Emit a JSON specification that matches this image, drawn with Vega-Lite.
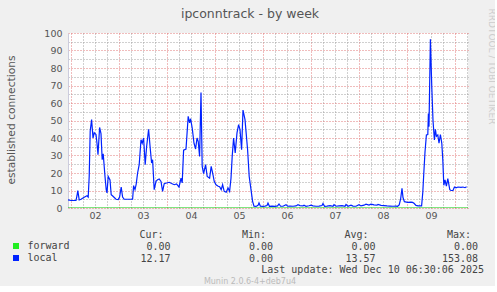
{
  "$schema": "https://vega.github.io/schema/vega-lite/v6.json",
  "background": "#f0f0f0",
  "padding": {"left": 5, "top": 7, "right": 0, "bottom": 0},
  "spacing": 9,
  "config": {"view": {"stroke": null}, "font": "DejaVu Sans"},
  "title": {"text": "Munin 2.0.6-4+deb7u4", "orient": "bottom", "anchor": "middle", "frame": "bounds", "font": "DejaVu Sans", "fontSize": 8, "fontWeight": "normal", "color": "#bbbbbb", "offset": 3},
  "resolve": {"scale": {"color": "independent"}, "legend": {"color": "independent"}},
  "vconcat": [
    {
      "width": 400,
      "height": 175,
      "view": {"fill": "#ffffff", "stroke": null},
      "data": {"values": [
        {"series": "forward", "t": 22.5, "v": 0}, {"series": "forward", "t": 222.5, "v": 0},
        {"series": "local", "t": 22.5, "v": 4.6}, {"series": "local", "t": 24, "v": 4.3}, {"series": "local", "t": 26.5, "v": 4.4}, {"series": "local", "t": 27, "v": 7},
        {"series": "local", "t": 27.4, "v": 10}, {"series": "local", "t": 28.1, "v": 4.6}, {"series": "local", "t": 29, "v": 5}, {"series": "local", "t": 30.6, "v": 6.2},
        {"series": "local", "t": 32, "v": 7}, {"series": "local", "t": 32.6, "v": 6.3}, {"series": "local", "t": 33.1, "v": 18}, {"series": "local", "t": 33.6, "v": 44},
        {"series": "local", "t": 34.3, "v": 50.5}, {"series": "local", "t": 35, "v": 40}, {"series": "local", "t": 35.6, "v": 43}, {"series": "local", "t": 36.5, "v": 42},
        {"series": "local", "t": 37, "v": 37}, {"series": "local", "t": 37.5, "v": 30.5}, {"series": "local", "t": 38.3, "v": 46}, {"series": "local", "t": 39, "v": 42.5},
        {"series": "local", "t": 39.6, "v": 27.6}, {"series": "local", "t": 40.1, "v": 31}, {"series": "local", "t": 41, "v": 18}, {"series": "local", "t": 41.6, "v": 10.5},
        {"series": "local", "t": 42, "v": 8.6}, {"series": "local", "t": 42.6, "v": 18}, {"series": "local", "t": 43.5, "v": 16}, {"series": "local", "t": 44.1, "v": 7.6},
        {"series": "local", "t": 45, "v": 6.7}, {"series": "local", "t": 46.5, "v": 5}, {"series": "local", "t": 47.6, "v": 4.8}, {"series": "local", "t": 48.3, "v": 6.3},
        {"series": "local", "t": 49.1, "v": 12}, {"series": "local", "t": 49.8, "v": 6.3}, {"series": "local", "t": 50.6, "v": 5}, {"series": "local", "t": 54.8, "v": 5},
        {"series": "local", "t": 55.3, "v": 12.8}, {"series": "local", "t": 56, "v": 10.5}, {"series": "local", "t": 56.6, "v": 13.7}, {"series": "local", "t": 57.3, "v": 20},
        {"series": "local", "t": 58.1, "v": 24.8}, {"series": "local", "t": 59, "v": 39}, {"series": "local", "t": 59.6, "v": 37}, {"series": "local", "t": 60.3, "v": 40},
        {"series": "local", "t": 61.1, "v": 24.8}, {"series": "local", "t": 61.8, "v": 35}, {"series": "local", "t": 62.8, "v": 45}, {"series": "local", "t": 63.6, "v": 34.3},
        {"series": "local", "t": 64.3, "v": 25.7}, {"series": "local", "t": 64.8, "v": 27.6}, {"series": "local", "t": 65.6, "v": 10.5}, {"series": "local", "t": 66.5, "v": 15.2},
        {"series": "local", "t": 67.3, "v": 16.2}, {"series": "local", "t": 68.1, "v": 16.6}, {"series": "local", "t": 69, "v": 15.2}, {"series": "local", "t": 69.8, "v": 9.5},
        {"series": "local", "t": 70.6, "v": 13.9}, {"series": "local", "t": 71.8, "v": 14.3}, {"series": "local", "t": 73.1, "v": 14.7}, {"series": "local", "t": 74.3, "v": 14},
        {"series": "local", "t": 75.6, "v": 13.3}, {"series": "local", "t": 76.8, "v": 13.8}, {"series": "local", "t": 78, "v": 12}, {"series": "local", "t": 79, "v": 17},
        {"series": "local", "t": 79.6, "v": 14.3}, {"series": "local", "t": 80.3, "v": 33}, {"series": "local", "t": 81.5, "v": 33.7}, {"series": "local", "t": 82.6, "v": 52.4},
        {"series": "local", "t": 83.3, "v": 48.6}, {"series": "local", "t": 83.8, "v": 51}, {"series": "local", "t": 84.6, "v": 45.7}, {"series": "local", "t": 85.5, "v": 37},
        {"series": "local", "t": 86.3, "v": 33.7}, {"series": "local", "t": 87, "v": 40}, {"series": "local", "t": 87.6, "v": 38}, {"series": "local", "t": 88.3, "v": 29.5},
        {"series": "local", "t": 89, "v": 66}, {"series": "local", "t": 89.6, "v": 23.8}, {"series": "local", "t": 90.3, "v": 19.6}, {"series": "local", "t": 91.3, "v": 24.8},
        {"series": "local", "t": 92.1, "v": 18}, {"series": "local", "t": 93.3, "v": 17}, {"series": "local", "t": 94.1, "v": 23.8}, {"series": "local", "t": 95, "v": 19},
        {"series": "local", "t": 95.6, "v": 15.2}, {"series": "local", "t": 96.5, "v": 13.3}, {"series": "local", "t": 97.6, "v": 12.4}, {"series": "local", "t": 98.3, "v": 12.2},
        {"series": "local", "t": 99.1, "v": 10.5}, {"series": "local", "t": 99.8, "v": 13.3}, {"series": "local", "t": 100.6, "v": 9.5}, {"series": "local", "t": 101.6, "v": 9},
        {"series": "local", "t": 102.5, "v": 11.4}, {"series": "local", "t": 103.3, "v": 9.5}, {"series": "local", "t": 104, "v": 17}, {"series": "local", "t": 104.6, "v": 29.5},
        {"series": "local", "t": 105.3, "v": 40}, {"series": "local", "t": 106.1, "v": 31.4}, {"series": "local", "t": 107, "v": 42.9}, {"series": "local", "t": 107.8, "v": 47.6},
        {"series": "local", "t": 108.5, "v": 44.8}, {"series": "local", "t": 109.3, "v": 33.3}, {"series": "local", "t": 110, "v": 56}, {"series": "local", "t": 111, "v": 50.5},
        {"series": "local", "t": 112.3, "v": 33.3}, {"series": "local", "t": 113.1, "v": 18}, {"series": "local", "t": 114, "v": 10.5}, {"series": "local", "t": 114.8, "v": 3.8},
        {"series": "local", "t": 115.5, "v": 1.0}, {"series": "local", "t": 116.5, "v": 0.9}, {"series": "local", "t": 117.5, "v": 1.5}, {"series": "local", "t": 118, "v": 2.9},
        {"series": "local", "t": 118.7, "v": 1.0}, {"series": "local", "t": 120, "v": 0.9}, {"series": "local", "t": 121, "v": 1.1}, {"series": "local", "t": 122, "v": 1.4},
        {"series": "local", "t": 122.5, "v": 2.8}, {"series": "local", "t": 123.2, "v": 1.0}, {"series": "local", "t": 124.5, "v": 1.1}, {"series": "local", "t": 126, "v": 0.9},
        {"series": "local", "t": 127.3, "v": 1.2}, {"series": "local", "t": 128, "v": 2.3}, {"series": "local", "t": 128.8, "v": 1.0}, {"series": "local", "t": 130, "v": 1.0},
        {"series": "local", "t": 131.5, "v": 1.9}, {"series": "local", "t": 132.3, "v": 1.0}, {"series": "local", "t": 133.5, "v": 1.1}, {"series": "local", "t": 135, "v": 1.0},
        {"series": "local", "t": 136.5, "v": 1.2}, {"series": "local", "t": 137.5, "v": 1.9}, {"series": "local", "t": 138.5, "v": 1.3}, {"series": "local", "t": 140, "v": 1.2},
        {"series": "local", "t": 140.5, "v": 1.6}, {"series": "local", "t": 141.5, "v": 1.0}, {"series": "local", "t": 143, "v": 1.3}, {"series": "local", "t": 144, "v": 1.6},
        {"series": "local", "t": 145, "v": 1.2}, {"series": "local", "t": 146.5, "v": 1.0}, {"series": "local", "t": 148, "v": 1.1}, {"series": "local", "t": 149.5, "v": 1.4},
        {"series": "local", "t": 150, "v": 2.6}, {"series": "local", "t": 150.8, "v": 1.0}, {"series": "local", "t": 152, "v": 1.1}, {"series": "local", "t": 153.5, "v": 1.3},
        {"series": "local", "t": 155, "v": 1.0}, {"series": "local", "t": 155.5, "v": 1.9}, {"series": "local", "t": 156.5, "v": 1.0}, {"series": "local", "t": 158, "v": 1.2},
        {"series": "local", "t": 159.5, "v": 1.4}, {"series": "local", "t": 161, "v": 1.0}, {"series": "local", "t": 161.5, "v": 2.0}, {"series": "local", "t": 162.5, "v": 1.0},
        {"series": "local", "t": 164, "v": 1.6}, {"series": "local", "t": 165, "v": 1.1}, {"series": "local", "t": 166.5, "v": 1.0}, {"series": "local", "t": 168, "v": 1.9},
        {"series": "local", "t": 169, "v": 1.2}, {"series": "local", "t": 170.5, "v": 1.6}, {"series": "local", "t": 171.5, "v": 2.2}, {"series": "local", "t": 173, "v": 1.7},
        {"series": "local", "t": 174, "v": 2.2}, {"series": "local", "t": 175.5, "v": 1.8}, {"series": "local", "t": 177, "v": 1.6}, {"series": "local", "t": 177.5, "v": 2.0},
        {"series": "local", "t": 179, "v": 1.5}, {"series": "local", "t": 180.5, "v": 1.4}, {"series": "local", "t": 182, "v": 1.2}, {"series": "local", "t": 183.5, "v": 1.1},
        {"series": "local", "t": 185, "v": 1.0}, {"series": "local", "t": 186.5, "v": 1.1}, {"series": "local", "t": 187.3, "v": 1.0}, {"series": "local", "t": 188.1, "v": 1.8},
        {"series": "local", "t": 188.8, "v": 5}, {"series": "local", "t": 189.5, "v": 11.3}, {"series": "local", "t": 190, "v": 6}, {"series": "local", "t": 190.7, "v": 3.6},
        {"series": "local", "t": 192.3, "v": 3.2}, {"series": "local", "t": 194, "v": 3.3}, {"series": "local", "t": 194.8, "v": 3.2}, {"series": "local", "t": 195.5, "v": 2.7},
        {"series": "local", "t": 196.5, "v": 1.5}, {"series": "local", "t": 197.5, "v": 1.2}, {"series": "local", "t": 199.3, "v": 1.2}, {"series": "local", "t": 199.9, "v": 9},
        {"series": "local", "t": 200.4, "v": 20}, {"series": "local", "t": 201, "v": 32}, {"series": "local", "t": 201.7, "v": 41.7}, {"series": "local", "t": 202.4, "v": 42},
        {"series": "local", "t": 202.7, "v": 54}, {"series": "local", "t": 203, "v": 46.5}, {"series": "local", "t": 203.7, "v": 96.4}, {"series": "local", "t": 204.4, "v": 69},
        {"series": "local", "t": 205, "v": 50}, {"series": "local", "t": 205.7, "v": 38.9}, {"series": "local", "t": 206.2, "v": 45}, {"series": "local", "t": 206.7, "v": 41},
        {"series": "local", "t": 207.4, "v": 41.7}, {"series": "local", "t": 208, "v": 37}, {"series": "local", "t": 208.7, "v": 42}, {"series": "local", "t": 209.4, "v": 37},
        {"series": "local", "t": 209.9, "v": 27.5}, {"series": "local", "t": 210.4, "v": 13}, {"series": "local", "t": 211, "v": 16}, {"series": "local", "t": 211.7, "v": 12.5},
        {"series": "local", "t": 212.4, "v": 16.8}, {"series": "local", "t": 213.4, "v": 10.5}, {"series": "local", "t": 214, "v": 10}, {"series": "local", "t": 215, "v": 10},
        {"series": "local", "t": 215.7, "v": 12}, {"series": "local", "t": 216.5, "v": 11.5}, {"series": "local", "t": 217.5, "v": 12}, {"series": "local", "t": 219, "v": 11.8},
        {"series": "local", "t": 220, "v": 12}, {"series": "local", "t": 221, "v": 11.6}, {"series": "local", "t": 221.8, "v": 12.2}
      ]},
      "layer": [
        {
          "mark": {"type": "line", "opacity": 0},
          "encoding": {
            "detail": {"field": "series", "type": "nominal"},
            "x": {"field": "t", "type": "quantitative", "scale": {"domain": [22.5, 222.5], "nice": false, "zero": false},
              "axis": {"orient": "bottom", "values": [30, 36, 42, 54, 60, 66, 78, 84, 90, 102, 108, 114, 126, 132, 138, 150, 156, 162, 174, 180, 186, 198, 204, 210, 222],
                "grid": true, "gridColor": "#a0a0a0", "gridDash": [1, 2], "labels": false, "ticks": false, "domain": false, "title": null}},
            "y": {"field": "v", "type": "quantitative", "scale": {"domain": [0, 100], "nice": false},
              "axis": {"orient": "left", "values": [5, 15, 25, 35, 45, 55, 65, 75, 85, 95],
                "grid": true, "gridColor": "#a0a0a0", "gridDash": [1, 2], "labels": false, "ticks": false, "domain": false, "title": null}}
          }
        },
        {
          "mark": {"type": "line", "opacity": 0},
          "encoding": {
            "detail": {"field": "series", "type": "nominal"},
            "x": {"field": "t", "type": "quantitative", "scale": {"domain": [22.5, 222.5], "nice": false, "zero": false},
              "axis": {"orient": "top", "values": [24, 48, 72, 96, 120, 144, 168, 192, 216],
                "grid": true, "gridColor": "#e07878", "gridDash": [1, 2], "labels": false, "ticks": false, "domain": false,
                "title": "ipconntrack - by week", "titleFont": "DejaVu Sans", "titleFontSize": 12.5, "titleFontWeight": "normal", "titleColor": "#555555",
                "titleX": 181.5, "titleY": -16, "titleAlign": "center", "titleBaseline": "alphabetic", "titleAngle": 0}},
            "y": {"field": "v", "type": "quantitative", "scale": {"domain": [0, 100], "nice": false},
              "axis": {"orient": "right", "grid": false, "labels": false, "ticks": false, "domain": false,
                "title": "RRDTOOL / TOBI OETIKER", "titleFont": "DejaVu Sans", "titleFontSize": 9, "titleFontWeight": "normal", "titleColor": "#cdcdcd",
                "titleAngle": 90, "titleX": 23, "titleY": -25, "titleAlign": "left", "titleBaseline": "middle"}}
          }
        },
        {
          "mark": {"type": "line", "strokeWidth": 1.2, "clip": true},
          "encoding": {
            "x": {"field": "t", "type": "quantitative", "scale": {"domain": [22.5, 222.5], "nice": false, "zero": false},
              "axis": {"orient": "bottom", "values": [36, 60, 84, 108, 132, 156, 180, 204], "labelExpr": "'0' + (floor(datum.value / 24) + 1)",
                "grid": false, "ticks": false, "domain": false, "labelFont": "DejaVu Sans", "labelFontSize": 9.5, "labelColor": "#555555", "labelPadding": 2, "title": null}},
            "y": {"field": "v", "type": "quantitative", "scale": {"domain": [0, 100], "nice": false},
              "axis": {"orient": "left", "values": [0, 10, 20, 30, 40, 50, 60, 70, 80, 90, 100],
                "grid": true, "gridColor": "#e07878", "gridDash": [1, 2], "ticks": false, "domain": true, "domainColor": "#ccccdd",
                "labelFont": "DejaVu Sans", "labelFontSize": 9.5, "labelColor": "#555555", "labelPadding": 6,
                "title": "established connections", "titleFont": "DejaVu Sans", "titleFontSize": 10.7, "titleFontWeight": "normal", "titleColor": "#555555",
                "titleX": -57, "titleY": 86.5, "titleAngle": 270, "titleAlign": "center", "titleBaseline": "middle"}},
            "color": {"field": "series", "type": "nominal", "scale": {"domain": ["forward", "local"], "range": ["#00cc00", "#0022ff"]}, "legend": null}
          }
        }
      ],
      "resolve": {"axis": {"x": "independent", "y": "independent"}}
    },
    {
      "width": 410,
      "height": 24,
      "data": {"values": [
        {"series": "forward", "Cur": 0, "Min": 0, "Avg": 0, "Max": 0},
        {"series": "local", "Cur": 12.17, "Min": 0, "Avg": 13.57, "Max": 153.08}
      ]},
      "transform": [{"fold": ["Cur", "Min", "Avg", "Max"], "as": ["stat", "value"]}],
      "title": {"text": "Last update: Wed Dec 10 06:30:06 2025", "orient": "bottom", "anchor": "end", "frame": "group", "font": "DejaVu Sans Mono", "fontSize": 10, "fontWeight": "normal", "color": "#444444", "offset": 0, "dx": 6},
      "layer": [
        {
          "mark": {"type": "square", "opacity": 0},
          "encoding": {
            "y": {"field": "series", "type": "nominal", "scale": {"type": "point", "domain": ["forward", "local"], "padding": 0.5}, "axis": null},
            "color": {"field": "series", "type": "nominal", "scale": {"domain": ["forward", "local"], "range": ["#22ee22", "#0022ff"]},
              "legend": {"orient": "left", "title": null, "symbolType": "square", "symbolSize": 36, "symbolStrokeWidth": 0, "symbolOpacity": 1,
                "labelFont": "DejaVu Sans Mono", "labelFontSize": 10, "labelColor": "#444444", "labelOffset": 6.5, "rowPadding": 2, "offset": -1.6, "padding": 0}}
          }
        },
        {
          "mark": {"type": "text", "align": "right", "baseline": "middle", "font": "DejaVu Sans Mono", "fontSize": 10, "color": "#444444"},
          "encoding": {
            "x": {"field": "stat", "type": "nominal", "scale": {"type": "point", "domain": ["Cur", "Min", "Avg", "Max"], "padding": 0.5, "align": 1},
              "axis": {"orient": "top", "labelExpr": "datum.value + ':'", "labelAlign": "right", "labelOffset": -7.5, "labelAngle": 0,
                "labelFont": "DejaVu Sans Mono", "labelFontSize": 10, "labelColor": "#444444", "labelPadding": 2, "ticks": false, "domain": false, "grid": false, "title": null}},
            "y": {"field": "series", "type": "nominal", "scale": {"type": "point", "domain": ["forward", "local"], "padding": 0.5}, "axis": null},
            "text": {"field": "value", "type": "quantitative", "format": ".2f"}
          }
        }
      ]
    }
  ]
}
